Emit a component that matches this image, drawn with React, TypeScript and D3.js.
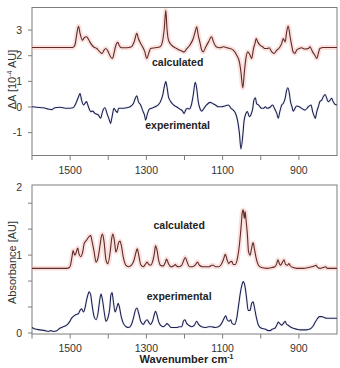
import React from "react";
import * as d3 from "d3";

// ---------- data (wavenumber cm-1, value) ----------
const topCalcW = [1600,1518,1493,1487,1483,1478,1474,1468,1463,1457,1451,1446,1439,1430,1422,1416,1411,1406,1400,1394,1389,1385,1380,1375,1371,1365,1352,1339,1332,1325,1321,1315,1310,1304,1299,1294,1289,1277,1264,1257,1253,1249,1246,1242,1234,1221,1207,1201,1194,1186,1177,1172,1168,1164,1159,1155,1151,1144,1137,1129,1124,1117,1107,1098,1089,1081,1072,1063,1056,1052,1047,1043,1039,1034,1028,1024,1019,1015,1012,1008,1002,995,989,983,978,971,965,958,951,945,941,936,932,928,923,919,915,910,906,899,893,884,875,871,864,858,853,849,845,836,818,800];
const topCalcV = [2.32,2.32,2.32,2.44,2.80,3.15,2.87,2.61,2.70,2.74,2.61,2.48,2.35,2.28,2.15,2.09,2.22,2.28,2.15,1.96,1.89,2.09,2.41,2.52,2.39,2.31,2.31,2.35,2.54,2.87,2.67,2.48,2.35,2.15,1.89,2.09,2.28,2.31,2.35,2.61,3.06,3.77,3.06,2.61,2.41,2.28,2.18,2.15,2.28,2.41,2.67,2.93,3.13,2.80,2.48,2.22,2.15,2.35,2.54,2.74,2.54,2.35,2.31,2.35,2.31,2.28,2.22,2.02,1.76,1.37,0.75,1.37,1.89,2.15,2.02,1.89,2.28,2.48,2.67,2.54,2.41,2.35,2.28,2.28,2.31,2.15,2.09,2.22,2.31,2.48,2.67,2.54,2.93,3.16,2.74,2.41,2.15,2.09,2.22,2.28,2.31,2.26,2.28,2.35,2.15,2.02,1.89,2.09,2.28,2.32,2.32,2.32];

const topExpW = [1600,1588,1570,1557,1548,1540,1527,1509,1492,1485,1478,1474,1470,1465,1461,1457,1452,1446,1441,1435,1426,1420,1415,1409,1402,1397,1394,1390,1385,1380,1376,1373,1365,1352,1343,1334,1329,1325,1321,1315,1310,1305,1302,1297,1292,1286,1277,1269,1263,1257,1253,1249,1246,1242,1236,1229,1221,1212,1205,1201,1197,1193,1187,1182,1177,1172,1168,1164,1159,1155,1149,1142,1133,1126,1119,1111,1103,1094,1085,1078,1072,1066,1061,1056,1052,1047,1044,1039,1035,1030,1026,1021,1018,1014,1011,1006,1002,998,993,988,983,978,974,969,964,958,954,950,945,941,936,932,929,925,922,918,915,910,906,899,893,884,875,868,864,859,857,853,849,845,840,836,831,827,823,818,814,810,805,800];
const topExpV = [0.01,-0.01,-0.03,-0.08,-0.10,-0.03,-0.01,-0.05,-0.03,0.14,0.40,0.53,0.27,0.08,0.14,0.21,0.01,-0.18,-0.16,-0.25,-0.31,-0.44,-0.18,-0.03,-0.31,-0.51,-0.64,-0.38,-0.05,-0.16,-0.21,-0.05,-0.05,-0.03,0.01,0.14,0.34,0.44,0.21,0.08,-0.12,-0.31,-0.51,-0.25,-0.08,-0.05,0.01,0.08,0.21,0.47,0.79,0.99,0.79,0.40,0.21,0.08,0.01,-0.08,-0.16,-0.25,-0.12,-0.05,-0.08,0.08,0.47,0.96,0.73,0.21,-0.08,-0.16,-0.05,0.08,0.18,0.14,0.08,0.01,0.01,0.04,0.08,-0.05,-0.12,-0.25,-0.51,-1.02,-1.63,-1.09,-0.57,-0.25,-0.18,-0.38,-0.31,-0.05,0.27,0.36,0.14,0.08,0.01,-0.05,-0.05,0.01,-0.05,-0.03,0.01,0.08,-0.05,-0.25,-0.44,-0.18,0.08,0.14,0.34,0.66,0.75,0.53,0.21,0.01,-0.16,-0.05,0.04,0.01,-0.05,-0.12,0.01,0.08,-0.18,-0.38,-0.44,-0.18,0.01,0.21,0.27,0.40,0.49,0.34,0.21,0.27,0.34,0.21,0.10,0.08];

const botCalcW = [1600,1509,1502,1499,1495,1492,1488,1485,1480,1477,1472,1467,1463,1457,1450,1446,1443,1437,1432,1427,1422,1418,1415,1411,1406,1401,1395,1391,1388,1384,1380,1376,1373,1369,1366,1360,1354,1347,1339,1332,1327,1324,1320,1315,1308,1303,1298,1294,1289,1284,1279,1276,1272,1268,1263,1256,1250,1247,1242,1236,1229,1224,1221,1214,1207,1203,1198,1193,1187,1179,1172,1166,1161,1152,1144,1135,1129,1124,1119,1111,1105,1098,1093,1089,1084,1081,1076,1072,1067,1061,1056,1052,1048,1046,1043,1041,1039,1035,1032,1028,1024,1020,1017,1012,1006,998,984,971,963,958,955,951,948,943,939,935,930,926,922,915,906,888,875,866,860,855,852,845,836,830,825,800];
const botCalcV = [0.83,0.83,0.84,0.87,0.98,1.06,1.00,1.02,1.09,1.02,0.98,1.04,1.15,1.19,1.24,1.25,1.19,1.04,0.91,0.96,1.11,1.24,1.27,1.17,0.94,0.89,1.04,1.21,1.27,1.19,1.04,1.09,1.16,1.18,1.13,0.96,0.87,0.85,0.87,0.94,1.04,1.08,1.00,0.88,0.85,0.88,0.91,0.88,0.87,0.91,1.02,1.12,1.06,0.94,0.87,0.86,0.91,0.95,0.89,0.85,0.86,0.88,0.86,0.85,0.87,0.92,0.97,0.91,0.85,0.85,0.87,0.91,0.87,0.85,0.85,0.85,0.87,0.87,0.85,0.85,0.87,0.94,1.01,0.95,0.89,0.91,0.92,0.88,0.88,0.96,1.13,1.34,1.56,1.58,1.47,1.56,1.47,1.26,1.04,1.00,1.09,1.16,1.09,0.96,0.87,0.84,0.83,0.84,0.85,0.89,0.94,0.89,0.87,0.91,0.94,0.88,0.87,0.89,0.86,0.84,0.83,0.83,0.84,0.85,0.86,0.87,0.85,0.83,0.84,0.85,0.83,0.83];

const botExpW = [1600,1592,1579,1566,1557,1551,1544,1535,1527,1518,1509,1502,1496,1487,1478,1474,1470,1465,1461,1457,1452,1450,1446,1443,1437,1432,1427,1423,1419,1415,1410,1406,1401,1396,1393,1390,1387,1382,1378,1374,1371,1366,1360,1353,1347,1340,1334,1329,1325,1320,1315,1308,1303,1298,1294,1289,1284,1279,1276,1272,1268,1263,1256,1250,1246,1241,1235,1228,1221,1214,1207,1203,1199,1194,1189,1181,1174,1168,1163,1155,1146,1137,1129,1120,1111,1103,1096,1092,1088,1083,1079,1075,1068,1063,1058,1053,1048,1046,1041,1037,1033,1028,1024,1020,1017,1012,1006,998,989,980,976,969,963,958,954,950,945,941,936,932,928,923,915,906,897,888,880,871,864,857,852,846,840,834,827,818,800];
const botExpV = [0.07,0.05,0.04,0.03,0.02,0.03,0.02,0.03,0.06,0.08,0.10,0.14,0.19,0.23,0.25,0.29,0.31,0.27,0.32,0.42,0.51,0.53,0.49,0.38,0.21,0.17,0.25,0.40,0.50,0.42,0.25,0.15,0.19,0.32,0.49,0.52,0.42,0.27,0.32,0.38,0.34,0.21,0.12,0.08,0.07,0.10,0.19,0.29,0.32,0.25,0.15,0.11,0.15,0.17,0.14,0.11,0.15,0.24,0.28,0.23,0.15,0.10,0.08,0.10,0.12,0.10,0.07,0.07,0.07,0.08,0.08,0.15,0.17,0.12,0.10,0.08,0.10,0.15,0.11,0.08,0.07,0.08,0.08,0.07,0.08,0.12,0.19,0.22,0.17,0.15,0.17,0.12,0.11,0.19,0.36,0.53,0.64,0.66,0.59,0.44,0.29,0.29,0.38,0.40,0.34,0.21,0.10,0.06,0.05,0.03,0.03,0.05,0.06,0.10,0.14,0.12,0.10,0.12,0.15,0.11,0.10,0.08,0.06,0.05,0.04,0.04,0.04,0.05,0.08,0.14,0.18,0.21,0.21,0.20,0.19,0.19,0.19];

const xTicks = [1600, 1500, 1400, 1300, 1200, 1100, 1000, 900];
const xTickLabels = [1500, 1300, 1100, 900];
const topYTicks = [3, 2, 1, 0, -1];
const botYTicks = [0, 1 / 3, 2 / 3, 1, 4 / 3, 5 / 3];
const botYLabelValues = [0, 1, 1.87];
const botYLabelTexts = ["0", "1", "2"];

const FONT = "'Liberation Sans', Arial, Helvetica, sans-serif";
const AXIS = "#7d7d7d";
const CALC = "#5e2a2a";
const CALC_GLOW = "#f4b3aa";
const EXP = "#1d2150";
const EXP_GLOW = "#c4cbe6";

type Pt = [number, number];
const zip = (w: number[], v: number[]): Pt[] => w.map((x, i) => [x, v[i]]);

export default function App() {
  const left = 32, right = 337;
  const x = d3.scaleLinear().domain([1600, 800]).range([left, right]);
  const yTop = d3.scaleLinear().domain([-1.89, 3.88]).range([155.5, 7.5]);
  const yBot = d3.scaleLinear().domain([-0.013, 1.9]).range([334, 185]);

  const mkLine = (y: d3.ScaleLinear<number, number>) =>
    d3.line<Pt>().x((d) => x(d[0])).y((d) => y(d[1])).curve(d3.curveMonotoneX);

  const lt = mkLine(yTop);
  const lb = mkLine(yBot);

  const panel = (
    y: d3.ScaleLinear<number, number>,
    yTicks: number[],
    yLabelVals: number[],
    yLabelTxt: string[],
    key: string
  ) => {
    const [y0, y1] = y.range();
    return (
      <g key={key}>
        <rect x={left} y={y1} width={right - left} height={y0 - y1} fill="none" stroke={AXIS} strokeWidth={1} />
        {yTicks.map((t, i) => (
          <line key={"yt" + i} x1={left - 4} x2={left} y1={y(t)} y2={y(t)} stroke={AXIS} strokeWidth={1} />
        ))}
        {yLabelVals.map((t, i) => (
          <text key={"yl" + i} x={left - 10} y={y(t)} dy="0.35em" textAnchor="end" fontSize={10.5} fill="#333" fontFamily={FONT}>
            {yLabelTxt[i]}
          </text>
        ))}
        {xTicks.map((t, i) => (
          <line key={"xt" + i} x1={x(t)} x2={x(t)} y1={y0} y2={y0 + 4.5} stroke={AXIS} strokeWidth={1} />
        ))}
        {xTickLabels.map((t, i) => (
          <text key={"xl" + i} x={x(t)} y={y0 + 18} textAnchor="middle" fontSize={10.5} fill="#333" fontFamily={FONT}>
            {t}
          </text>
        ))}
      </g>
    );
  };

  const topCalc = zip(topCalcW, topCalcV);
  const topExp = zip(topExpW, topExpV);
  const botCalc = zip(botCalcW, botCalcV);
  const botExp = zip(botExpW, botExpV);

  return (
    <svg width={340} height={368} style={{ position: "absolute", left: 0, top: 0, background: "#fff" }}>
      {panel(yTop, topYTicks, topYTicks, topYTicks.map(String), "top")}
      {panel(yBot, botYTicks, botYLabelValues, botYLabelTexts, "bot")}

      {/* glows */}
      <path d={lt(topCalc) || ""} fill="none" stroke={CALC_GLOW} strokeOpacity={0.4} strokeWidth={5} strokeLinejoin="round" />
      <path d={lt(topExp) || ""} fill="none" stroke={EXP_GLOW} strokeOpacity={0.2} strokeWidth={3} strokeLinejoin="round" />
      <path d={lb(botCalc) || ""} fill="none" stroke={CALC_GLOW} strokeOpacity={0.4} strokeWidth={5} strokeLinejoin="round" />
      <path d={lb(botExp) || ""} fill="none" stroke={EXP_GLOW} strokeOpacity={0.2} strokeWidth={3} strokeLinejoin="round" />

      {/* lines */}
      <path d={lt(topCalc) || ""} fill="none" stroke={CALC} strokeWidth={1.1} strokeLinejoin="round" />
      <path d={lt(topExp) || ""} fill="none" stroke={EXP} strokeWidth={1.1} strokeLinejoin="round" />
      <path d={lb(botCalc) || ""} fill="none" stroke={CALC} strokeWidth={1.1} strokeLinejoin="round" />
      <path d={lb(botExp) || ""} fill="none" stroke={EXP} strokeWidth={1.1} strokeLinejoin="round" />

      {/* series labels */}
      <g fontFamily={FONT} fontWeight="bold" fontSize={10.5} fill="#222" textAnchor="middle">
        <text x={x(1218)} y={yTop(1.6)}>calculated</text>
        <text x={x(1218)} y={yTop(-0.86)}>experimental</text>
        <text x={x(1214)} y={yBot(1.34)}>calculated</text>
        <text x={x(1214)} y={yBot(0.42)}>experimental</text>
      </g>

      {/* axis titles */}
      <text transform={`translate(15.5, ${(yTop.range()[0] + yTop.range()[1]) / 2 - 2}) rotate(-90)`} textAnchor="middle" fontSize={11} fill="#333" fontFamily={FONT}>
        ΔA [10<tspan fontSize={7} dy={-4}>-4</tspan><tspan dy={4}> AU]</tspan>
      </text>
      <text transform={`translate(15.5, ${(yBot.range()[0] + yBot.range()[1]) / 2 + 3}) rotate(-90)`} textAnchor="middle" fontSize={11} fill="#333" fontFamily={FONT}>
        Absorbance [AU]
      </text>
      <text x={(left + right) / 2 + 2} y={363} textAnchor="middle" fontSize={11} fontWeight="bold" fill="#222" fontFamily={FONT}>
        Wavenumber cm<tspan fontSize={7} dy={-4}>-1</tspan>
      </text>
    </svg>
  );
}
